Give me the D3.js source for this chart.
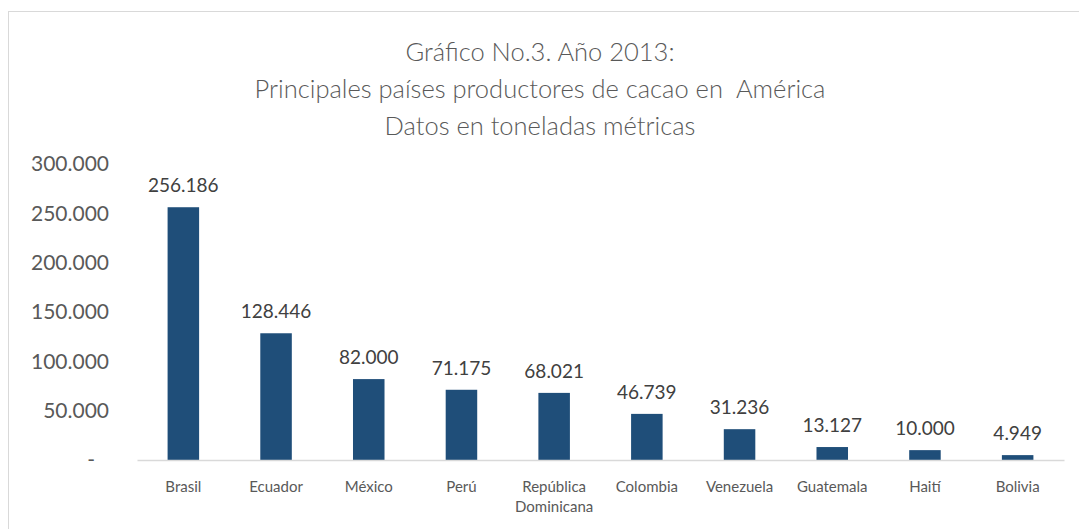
<!DOCTYPE html>
<html>
<head>
<meta charset="utf-8">
<script src="https://cdn.jsdelivr.net/npm/d3@7"></script>
<style>
  body { margin: 0; background: #fff; }
  text { font-family: Lato, "Open Sans", sans-serif; }
</style>
</head>
<body>
<div id="chart"></div>
<script>
const paises = ['Brasil', 'Ecuador', 'México', 'Perú', 'República Dominicana', 'Colombia', 'Venezuela', 'Guatemala', 'Haití', 'Bolivia'];
const toneladas = [256186, 128446, 82000, 71175, 68021, 46739, 31236, 13127, 10000, 4949];
const yTicks = [0, 50000, 100000, 150000, 200000, 250000, 300000];
const titulo = ['Gráfico No.3. Año 2013:', 'Principales países productores de cacao en  América', 'Datos en toneladas métricas'];

const W = 1079, H = 529;
const margin = {top: 0, right: 15, bottom: 0, left: 137};

// formato 256.186 con punto de miles
const fmt = d => d === 0 ? '-' : d3.format(',')(d).replace(/,/g, '.');

const svg = d3.select('#chart')
    .append('svg')
    .attr('width', W)
    .attr('height', H);

// marco del grafico
svg.append('rect')
    .attr('x', 8.5).attr('y', 11.5)
    .attr('width', W + 20).attr('height', H + 20)
    .attr('fill', 'none')
    .attr('stroke', '#d9d9d9');

const x = d3.scaleBand()
    .domain(paises)
    .range([margin.left, W - margin.right])
    .paddingInner(0.66)
    .paddingOuter(0.33);

const y = d3.scaleLinear()
    .domain([0, 300000])
    .range([460, 164]);

// titulo
svg.append('text')
    .attr('x', 540)
    .attr('y', 61)
    .attr('text-anchor', 'middle')
    .attr('fill', '#595959')
    .style('font-size', '25.5px')
    .style('font-weight', 300)
    .style('white-space', 'pre')
    .selectAll('tspan')
    .data(titulo)
    .join('tspan')
    .attr('x', 540)
    .attr('dy', (d, i) => i === 0 ? 0 : 37)
    .text(d => d);

// eje y
const yAxis = svg.append('g')
    .attr('transform', 'translate(109,0)')
    .call(d3.axisLeft(y).tickValues(yTicks).tickFormat(fmt).tickSize(0).tickPadding(0));
yAxis.select('.domain').remove();
yAxis.selectAll('text')
    .attr('fill', '#595959')
    .style('font-size', '21px')
    .style('font-family', 'Lato, "Open Sans", sans-serif')
    .attr('dx', d => d === 0 ? -14 : 0);

// barras
svg.selectAll('rect.bar')
    .data(toneladas)
    .join('rect')
    .attr('class', 'bar')
    .attr('x', (d, i) => x(paises[i]))
    .attr('y', d => y(d))
    .attr('width', x.bandwidth())
    .attr('height', d => y(0) - y(d))
    .attr('fill', '#1f4e79');

// linea base
const xAxis = svg.append('g')
    .attr('transform', `translate(0,${y(0)})`)
    .call(d3.axisBottom(x).tickSize(0).tickFormat(''));
xAxis.select('.domain').attr('stroke', '#d9d9d9').attr('stroke-width', 1.5);

// etiquetas de datos
svg.selectAll('text.valor')
    .data(toneladas)
    .join('text')
    .attr('class', 'valor')
    .attr('x', (d, i) => x(paises[i]) + x.bandwidth() / 2)
    .attr('y', d => y(d) - 15)
    .attr('text-anchor', 'middle')
    .attr('fill', '#404040')
    .style('font-size', '19px')
    .text(fmt);

// nombres de paises
const etiquetas = svg.selectAll('text.pais')
    .data(paises)
    .join('text')
    .attr('class', 'pais')
    .attr('text-anchor', 'middle')
    .attr('fill', '#595959')
    .style('font-size', '15px')
    .attr('y', 492);

etiquetas.each(function(d) {
    const cx = x(d) + x.bandwidth() / 2;
    const partes = d === 'República Dominicana' ? ['República', 'Dominicana'] : [d];
    d3.select(this).selectAll('tspan')
        .data(partes)
        .join('tspan')
        .attr('x', cx)
        .attr('dy', (p, i) => i === 0 ? 0 : 20)
        .text(p => p);
});
</script>
</body>
</html>
